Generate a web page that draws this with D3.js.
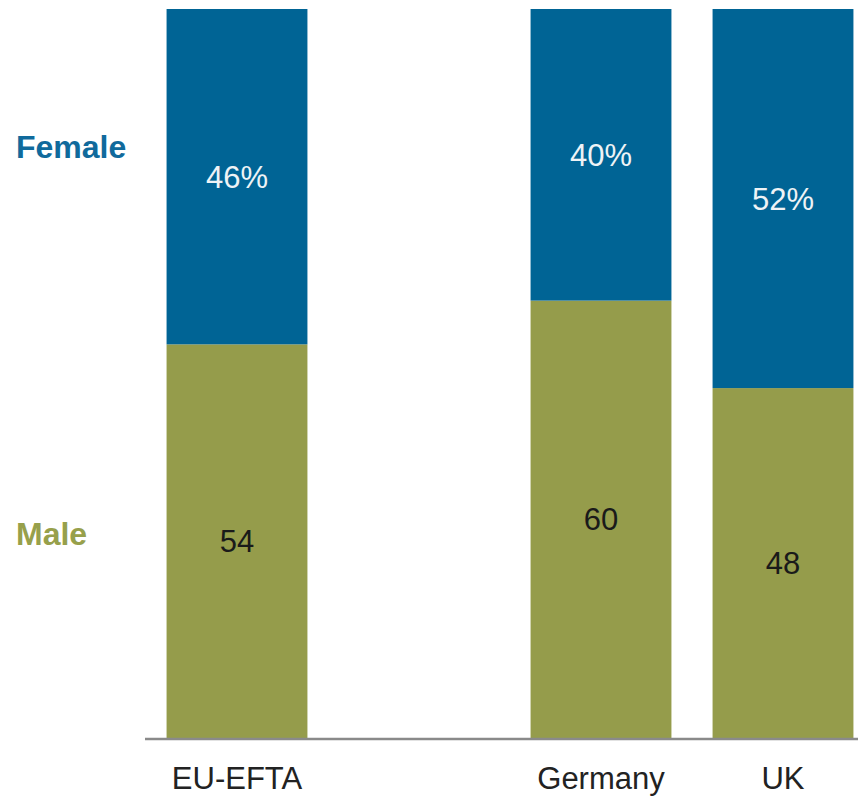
<!DOCTYPE html>
<html>
<head>
<meta charset="utf-8">
<script src="https://cdn.jsdelivr.net/npm/d3@7"></script>
<style>
  body { margin: 0; background: #fff; }
  svg { display: block; font-family: Arial, "Liberation Sans", sans-serif; }
</style>
</head>
<body>
<svg width="858" height="796"></svg>
<script>
// data
var categories = ["EU-EFTA", "gap", "Germany", "UK"];
var male = [54, null, 60, 48];
var female = [46, null, 40, 52];
var seriesNames = ["Male", "Female"];

var svg = d3.select("svg");
var blue = "#006495", green = "#959c4b";

var x = d3.scaleBand()
  .domain(categories)
  .range([146, 874])
  .paddingInner(0.226)
  .paddingOuter(0.113);

var y = d3.scaleLinear().domain([0, 100]).range([738, 9]);

// build rows for the stack, skip the empty slot
var rows = categories.map(function (c, i) {
  return { cat: c, Male: male[i], Female: female[i] };
}).filter(function (d) { return d.Male != null; });

var stack = d3.stack().keys(seriesNames)(rows);
var colors = { Male: green, Female: blue };

svg.selectAll("g.layer")
  .data(stack)
  .enter().append("g")
  .attr("class", "layer")
  .attr("fill", function (d) { return colors[d.key]; })
  .selectAll("rect")
  .data(function (d) { return d; })
  .enter().append("rect")
  .attr("x", function (d) { return x(d.data.cat); })
  .attr("width", x.bandwidth())
  .attr("y", function (d) { return y(d[1]); })
  .attr("height", function (d) { return y(d[0]) - y(d[1]); });

// value labels
stack.forEach(function (layer) {
  svg.append("g").selectAll("text")
    .data(layer)
    .enter().append("text")
    .attr("x", function (d) { return x(d.data.cat) + x.bandwidth() / 2; })
    .attr("y", function (d) { return (y(d[0]) + y(d[1])) / 2; })
    .attr("dy", "0.36em")
    .attr("text-anchor", "middle")
    .style("font-size", "31px")
    .attr("fill", layer.key == "Female" ? "#eef3f6" : "#1a1a1a")
    .text(function (d) {
      var v = d.data[layer.key];
      return layer.key == "Female" ? v + "%" : v;
    });
});

// x axis
var xAxis = svg.append("g")
  .attr("transform", "translate(0,738)")
  .call(d3.axisBottom(x).tickSize(0).tickPadding(29)
    .tickFormat(function (d) { return d == "gap" ? "" : d; }));
xAxis.select(".domain").remove();
xAxis.selectAll("text")
  .style("font-size", "31px")
  .style("font-family", "Arial, 'Liberation Sans', sans-serif")
  .attr("fill", "#222");

svg.append("line")
  .attr("x1", 145).attr("x2", 858)
  .attr("y1", 739).attr("y2", 739)
  .attr("stroke", "#8a8a8a")
  .attr("stroke-width", 2.5);

// series labels on the left
svg.append("text")
  .attr("x", 16).attr("y", 158)
  .style("font-size", "32px").style("font-weight", "bold")
  .attr("fill", "#106a9c")
  .text("Female");
svg.append("text")
  .attr("x", 16).attr("y", 545)
  .style("font-size", "32px").style("font-weight", "bold")
  .attr("fill", "#97a04b")
  .text("Male");
</script>
</body>
</html>
